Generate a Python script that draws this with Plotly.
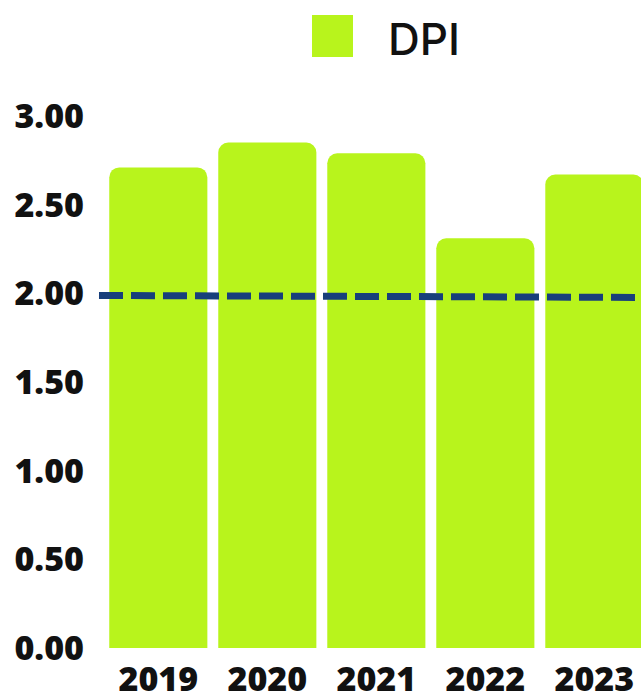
import plotly.graph_objects as go

years = ["2019", "2020", "2021", "2022", "2023"]
dpi_values = [2.71, 2.85, 2.79, 2.31, 2.67]
target_start = 1.988
target_end = 1.977
y_ticks = [0, 0.5, 1.0, 1.5, 2.0, 2.5, 3.0]
series_name = "DPI"

BAR_COLOR = "#b8f41c"
LINE_COLOR = "#183f7b"

W, H = 641, 693
L, R, T = 99, 0, 116
B = H - 648
pw, ph = W - L - R, H - T - B


def px_x(p):
    return (p - L) / pw


def px_y(p):
    return (H - B - p) / ph


fig = go.Figure()
fig.add_trace(go.Bar(
    x=list(range(len(years))),
    y=dpi_values,
    name=series_name,
    marker=dict(color=BAR_COLOR, cornerradius=10, line=dict(width=0)),
    showlegend=False,
    hoverinfo="x+y",
))

fig.add_shape(type="line", xref="paper", yref="y", x0=0, x1=1,
              y0=target_start, y1=target_end,
              line=dict(color=LINE_COLOR, width=7, dash="24px,8px"))

# legend drawn as shape + text for the large swatch
fig.add_shape(type="rect", xref="paper", yref="paper",
              x0=px_x(312), x1=px_x(353), y0=px_y(57), y1=px_y(15),
              fillcolor=BAR_COLOR, line=dict(width=0))
fig.add_annotation(xref="paper", yref="paper", x=px_x(386), y=px_y(39),
                   xanchor="left", yanchor="middle", text=series_name,
                   showarrow=False,
                   font=dict(family="Inter", size=44, color="#111111", weight=500))

fig.update_layout(
    width=W, height=H,
    margin=dict(l=L, r=R, t=T, b=B, autoexpand=False),
    plot_bgcolor="white", paper_bgcolor="white",
    bargap=0.1,
    showlegend=False,
    xaxis=dict(
        range=[-0.544, 4.428],
        tickvals=list(range(len(years))), ticktext=years,
        showgrid=False, zeroline=False, showline=False,
        tickfont=dict(family="Open Sans", size=34, color="#111111", weight=800),
        ticklabelstandoff=8,
        fixedrange=True,
    ),
    yaxis=dict(
        range=[0, 3],
        tickvals=y_ticks, tickformat=".2f",
        showgrid=False, zeroline=False, showline=False,
        tickfont=dict(family="Open Sans", size=34, color="#111111", weight=800),
        ticklabelstandoff=14,
        fixedrange=True,
    ),
)

fig.write_html(
    "out.html",
    config={"displayModeBar": False},
    post_script="document.body.style.margin='0';document.body.style.overflow='hidden';",
)
